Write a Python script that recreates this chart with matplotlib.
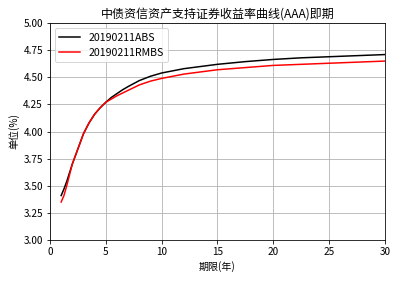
import matplotlib
matplotlib.use("Agg")
import matplotlib.pyplot as plt

plt.rcParams['font.family'] = ['Noto Sans CJK SC', 'DejaVu Sans']
plt.rcParams['axes.unicode_minus'] = False

term = [1, 1.25, 1.5, 1.75, 2, 2.5, 3, 3.5, 4, 4.5, 5, 5.5, 6, 6.5, 7, 8, 9, 10, 11, 12,
        13.5, 15, 17.5, 20, 22.5, 25, 27.5, 30]
abs_yield = [3.41, 3.47, 3.54, 3.62, 3.70, 3.84, 3.98, 4.08, 4.16, 4.22, 4.27, 4.315, 4.35,
             4.385, 4.415, 4.47, 4.51, 4.54, 4.56, 4.58, 4.60, 4.62, 4.645, 4.665, 4.68,
             4.69, 4.70, 4.71]
rmbs_yield = [3.35, 3.41, 3.50, 3.60, 3.70, 3.84, 3.98, 4.08, 4.16, 4.22, 4.27, 4.30, 4.33,
              4.355, 4.38, 4.43, 4.465, 4.49, 4.51, 4.53, 4.55, 4.57, 4.59, 4.61, 4.62,
              4.63, 4.64, 4.65]

fig = plt.figure(figsize=(398 / 72, 282 / 72), dpi=72)
ax = fig.add_subplot(111)
fig.subplots_adjust(left=0.1256, right=0.967, top=0.918, bottom=0.149)

ax.plot(term, abs_yield, color='black', lw=1.5, label='20190211ABS')
ax.plot(term, rmbs_yield, color='red', lw=1.5, label='20190211RMBS')

ax.set_xlim(0, 30)
ax.set_ylim(3.0, 5.0)
ax.set_xticks(range(0, 31, 5))
ax.set_yticks([3.0, 3.25, 3.5, 3.75, 4.0, 4.25, 4.5, 4.75, 5.0])
ax.set_yticklabels(['3.00', '3.25', '3.50', '3.75', '4.00', '4.25', '4.50', '4.75', '5.00'])
ax.grid(True)
ax.set_title('中债资信资产支持证券收益率曲线(AAA)即期')
ax.set_xlabel('期限(年)')
ax.set_ylabel('单位(%)')
ax.legend(loc='upper left', fontsize=10.5)

fig.savefig('out.png', dpi=72)
